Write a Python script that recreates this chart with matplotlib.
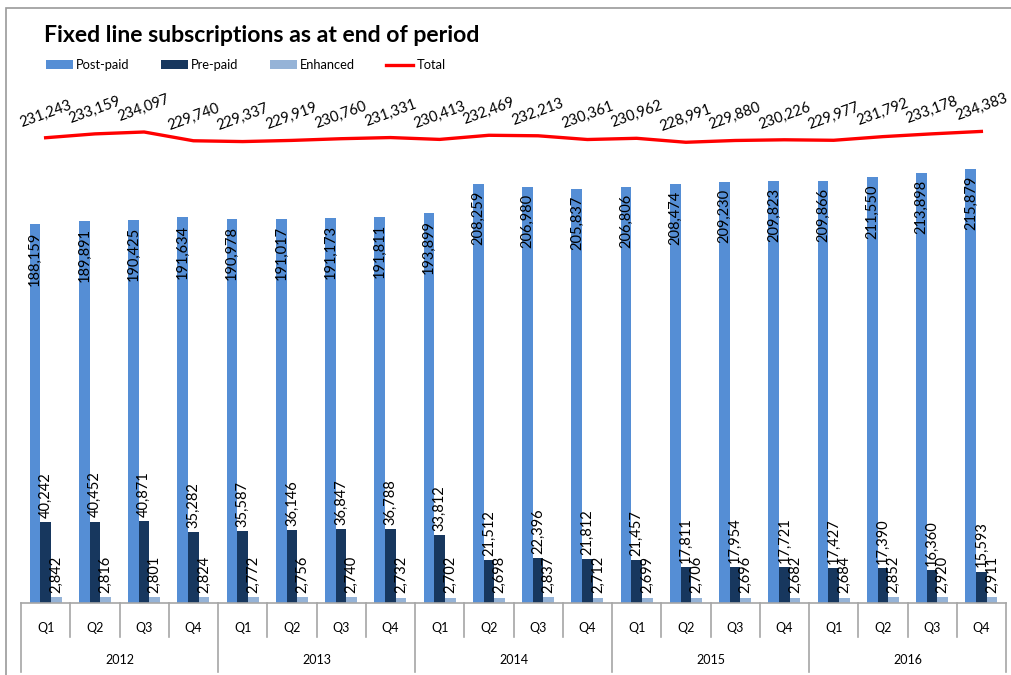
import matplotlib
matplotlib.use("Agg")
import matplotlib.pyplot as plt
from matplotlib.lines import Line2D
from matplotlib.patches import Rectangle, Patch
import numpy as np

plt.rcParams['font.family'] = ['Lato', 'DejaVu Sans']

# ---- data ----
quarters = ["Q1", "Q2", "Q3", "Q4"] * 5
years = ["2012", "2013", "2014", "2015", "2016"]
post_paid = [188159, 189891, 190425, 191634, 190978, 191017, 191173, 191811, 193899, 208259,
             206980, 205837, 206806, 208474, 209230, 209823, 209866, 211550, 213898, 215879]
pre_paid = [40242, 40452, 40871, 35282, 35587, 36146, 36847, 36788, 33812, 21512,
            22396, 21812, 21457, 17811, 17954, 17721, 17427, 17390, 16360, 15593]
enhanced = [2842, 2816, 2801, 2824, 2772, 2756, 2740, 2732, 2702, 2698,
            2837, 2712, 2699, 2706, 2696, 2682, 2684, 2852, 2920, 2911]
total = [231243, 233159, 234097, 229740, 229337, 229919, 230760, 231331, 230413, 232469,
         232213, 230361, 230962, 228991, 229880, 230226, 229977, 231792, 233178, 234383]

C_POST = "#558ED5"
C_PRE = "#17375E"
C_ENH = "#95B3D7"
C_TOT = "#FF0000"
C_AXIS = "#A6A6A6"

W, H = 1012, 675
fig = plt.figure(figsize=(W / 100, H / 100), dpi=100)

# outer chart border
fig.patches.append(Rectangle((6 / W, -0.05), 1.2, (H - 8) / H + 0.05,
                             transform=fig.transFigure, fill=False,
                             edgecolor="#9A9A9A", linewidth=1.2))

ax_left, ax_right, ax_top, ax_bottom = 21, 1006, 100, 603
ax = fig.add_axes([ax_left / W, (H - ax_bottom) / H,
                   (ax_right - ax_left) / W, (ax_bottom - ax_top) / H])
ax.set_xlim(-0.5, len(quarters) - 0.5)
ax.set_ylim(0, 250000)
for s in ["top", "right", "left"]:
    ax.spines[s].set_visible(False)
ax.spines["bottom"].set_color(C_AXIS)
ax.spines["bottom"].set_linewidth(1.2)
ax.set_yticks([])
ax.set_xticks([])

x = np.arange(len(quarters))
bw = 0.215
ax.bar(x - bw, post_paid, bw, color=C_POST, zorder=2)
ax.bar(x, pre_paid, bw, color=C_PRE, zorder=2)
ax.bar(x + bw, enhanced, bw, color=C_ENH, zorder=2)
ax.plot(x, total, color=C_TOT, linewidth=2.4, zorder=3, solid_joinstyle="round")

lab_fs = 10.5
for i in range(len(quarters)):
    ax.annotate(f"{post_paid[i]:,}", (x[i] - bw, post_paid[i]), xytext=(0, -5),
                textcoords="offset points", rotation=90, ha="center", va="top",
                fontsize=lab_fs, zorder=4)
    ax.annotate(f"{pre_paid[i]:,}", (x[i], pre_paid[i]), xytext=(0, 3),
                textcoords="offset points", rotation=90, ha="center", va="bottom",
                fontsize=lab_fs, zorder=4)
    ax.annotate(f"{enhanced[i]:,}", (x[i] + bw, enhanced[i]), xytext=(0, 3),
                textcoords="offset points", rotation=90, ha="center", va="bottom",
                fontsize=lab_fs, zorder=4)
    ax.annotate(f"{total[i]:,}", (x[i], total[i]), xytext=(0, 6),
                textcoords="offset points", rotation=20, ha="center", va="bottom",
                fontsize=lab_fs, zorder=4)

# category axis: quarter and year boxes
axh = ax_bottom - ax_top
q_drop = 34 / axh
y_drop = 69 / axh
tr = ax.get_xaxis_transform()
for k in range(len(quarters) + 1):
    xb = k - 0.5
    depth = y_drop if k % 4 == 0 else q_drop
    ax.add_line(Line2D([xb, xb], [0, -depth], transform=tr, color=C_AXIS,
                       linewidth=1.2, clip_on=False))
for i, q in enumerate(quarters):
    ax.text(i, -25 / axh, q, transform=tr, ha="center", va="center", fontsize=9)
for j, yr in enumerate(years):
    ax.text(j * 4 + 1.5, -57 / axh, yr, transform=tr, ha="center", va="center", fontsize=9)

# title
fig.text(44 / W, (H - 35) / H, "Fixed line subscriptions as at end of period",
         fontsize=16.6, fontweight="bold", ha="left", va="center")

# legend
handles = [Patch(facecolor=C_POST, label="Post-paid"),
           Patch(facecolor=C_PRE, label="Pre-paid"),
           Patch(facecolor=C_ENH, label="Enhanced"),
           Line2D([], [], color=C_TOT, linewidth=2.4, label="Total")]
fig.legend(handles=handles, loc="center left", bbox_to_anchor=(46 / W, (H - 65) / H),
           ncol=4, frameon=False, fontsize=9.3, handlelength=2.1, handleheight=0.65,
           handletextpad=0.25, columnspacing=2.4, borderaxespad=0, borderpad=0)

fig.savefig("out.png", dpi=100)
